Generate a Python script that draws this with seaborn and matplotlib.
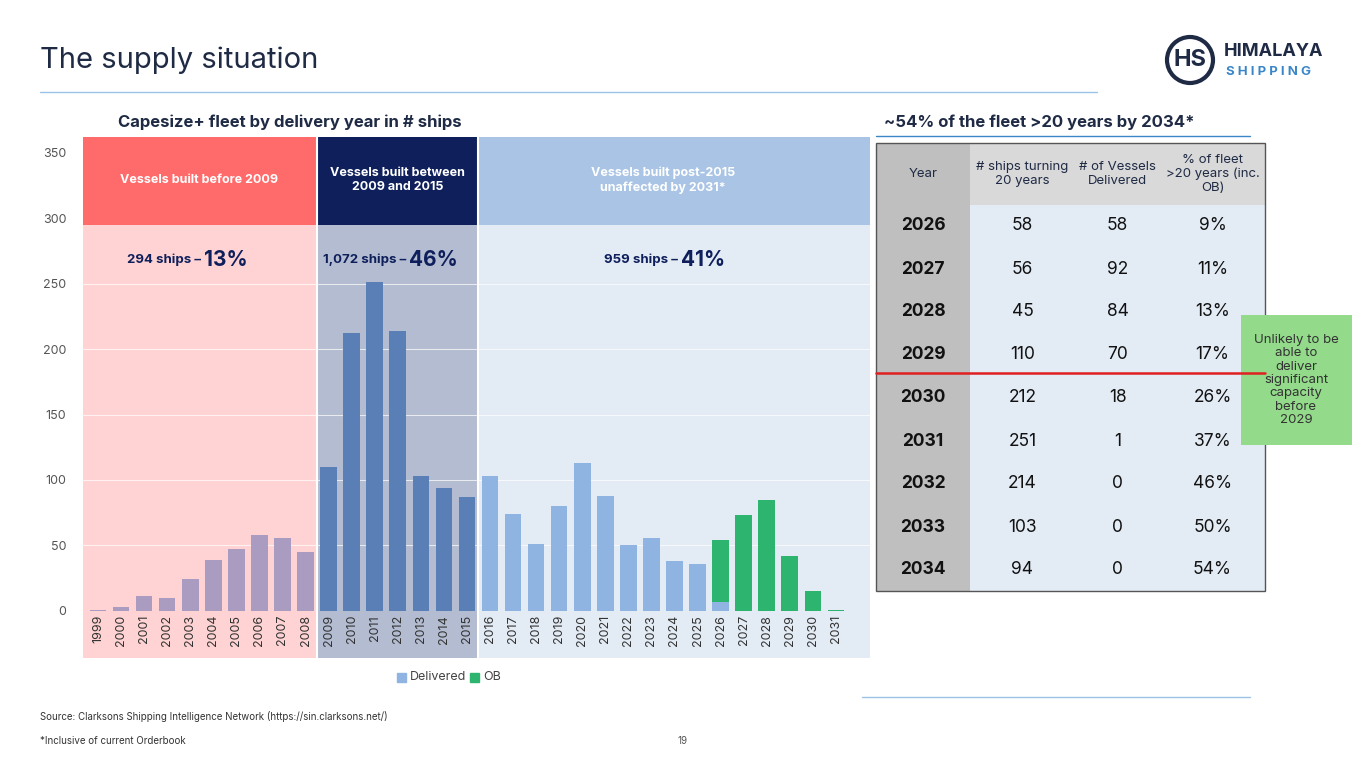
import matplotlib
matplotlib.use("Agg")
import matplotlib.pyplot as plt
import seaborn as sns
from matplotlib.patches import Rectangle, Ellipse

years = [str(y) for y in range(1999, 2032)]
delivered = [1,3,11,10,24,39,47,58,56,45,110,212,251,214,103,94,87,103,74,51,80,113,88,50,56,38,36,7,0,0,0,0,0]
orderbook = [0]*27 + [47,73,85,42,15,1]
tbl_years = ["2026","2027","2028","2029","2030","2031","2032","2033","2034"]
tbl_turning = [58,56,45,110,212,251,214,103,94]
tbl_deliv = [58,92,84,70,18,1,0,0,0]
tbl_pct = ["9%","11%","13%","17%","26%","37%","46%","50%","54%"]

sns.set_theme(style="white")
plt.rcParams['font.family'] = ['Inter', 'DejaVu Sans']
W, H = 1365, 768
fig = plt.figure(figsize=(13.65, 7.68), dpi=100)
def fx(x): return x / W
def fy(y): return 1 - y / H

fig.text(fx(40), fy(60), "The supply situation", fontsize=21, color="#1F2A44", va="center")
fig.add_artist(plt.Line2D([fx(40), fx(1097)], [fy(92), fy(92)], color="#9CC3E6", lw=1))
fig.add_artist(plt.Line2D([fx(862), fx(1250)], [fy(697), fy(697)], color="#9CC3E6", lw=1))
fig.add_artist(Ellipse((fx(1190), fy(60)), 46/W, 46/H, transform=fig.transFigure, fc="white", ec="#1F2A44", lw=3))
fig.text(fx(1190), fy(60), "HS", fontsize=17, fontweight="bold", color="#1F2A44", ha="center", va="center")
fig.text(fx(1224), fy(52), "HIMALAYA", fontsize=13, fontweight="bold", color="#1F2A44", va="center")
fig.text(fx(1226), fy(72), "S H I P P I N G", fontsize=9.5, fontweight="bold", color="#3A86C8", va="center")

fig.text(fx(118), fy(122), "Capesize+ fleet by delivery year in # ships", fontsize=12, fontweight="bold", color="#1F2A44", va="center")
fig.text(fx(884), fy(122), "~54% of the fleet >20 years by 2034*", fontsize=12, fontweight="bold", color="#1F2A44", va="center")
fig.add_artist(plt.Line2D([fx(876), fx(1250)], [fy(136), fy(136)], color="#3A86C8", lw=1))

ax = fig.add_axes([fx(83), fy(658), fx(870)-fx(83), fy(137)-fy(658)])
XL = (-0.65, 33.48)
regions = [(XL[0], 9.5, "#FFD3D3", "#FF6B6B"), (9.5, 16.5, "#B3BCD0", "#0E1F5B"), (16.5, XL[1], "#E3EBF5", "#A9C4E4")]
for x0, x1, lo, hi in regions:
    ax.add_patch(Rectangle((x0, -36), x1 - x0, 295 + 36, color=lo, zorder=0, lw=0))
    ax.add_patch(Rectangle((x0, 295), x1 - x0, 67, color=hi, zorder=0, lw=0))
for v in range(50, 300, 50):
    ax.axhline(v, color="white", lw=0.8, alpha=0.7, zorder=0.5)
ax.axvline(9.5, color="white", lw=1.5, zorder=0.6)
ax.axvline(16.5, color="white", lw=1.5, zorder=0.6)

cols = ["#A99CC0"]*10 + ["#5A7EB6"]*7 + ["#90B4E2"]*16
totals = [d + o for d, o in zip(delivered, orderbook)]
sns.barplot(x=years, y=totals, hue=years, palette=["#2DB46E"]*33, legend=False, width=0.72, ax=ax, zorder=2, saturation=1, linewidth=0)
sns.barplot(x=years, y=delivered, hue=years, palette=cols, legend=False, width=0.72, ax=ax, zorder=3, saturation=1, linewidth=0)
ax.set_xlim(*XL)
ax.set_ylim(-36, 362)
ax.set_yticks(range(0, 351, 50))
ax.tick_params(axis="y", labelsize=9, colors="#555555", length=0, pad=12)
ax.set_xticks([])
ax.set_xlabel(""); ax.set_ylabel("")
for s in ax.spines.values():
    s.set_visible(False)
for i, y in enumerate(years):
    ax.text(i, -3, y, rotation=90, ha="center", va="top", fontsize=9, color="#333333")

for x, t in [(4.4, "Vessels built before 2009"), (13.0, "Vessels built between\n2009 and 2015"), (24.5, "Vessels built post-2015\nunaffected by 2031*")]:
    ax.text(x, 329, t, ha="center", va="center", fontsize=9, fontweight="bold", color="white")
for x, a, b in [(4.6, "294 ships – ", "13%"), (13.5, "1,072 ships – ", "46%"), (25.3, "959 ships – ", "41%")]:
    ax.text(x, 268, a, ha="right", va="center", fontsize=9.5, fontweight="bold", color="#0E1F5B")
    ax.text(x, 268, b, ha="left", va="center", fontsize=15, fontweight="bold", color="#0E1F5B")

fig.add_artist(Rectangle((fx(397), fy(682)), 9/W, 9/H, transform=fig.transFigure, color="#90B4E2"))
fig.text(fx(410), fy(677), "Delivered", fontsize=9, color="#444444", va="center")
fig.add_artist(Rectangle((fx(470), fy(682)), 9/W, 9/H, transform=fig.transFigure, color="#2DB46E"))
fig.text(fx(483), fy(677), "OB", fontsize=9, color="#444444", va="center")

tx = [876, 970, 1075, 1160, 1265]
fig.add_artist(Rectangle((fx(876), fy(591)), 389/W, 448/H, transform=fig.transFigure, fc="#E3EBF5", lw=0))
fig.add_artist(Rectangle((fx(876), fy(591)), 94/W, 448/H, transform=fig.transFigure, fc="#BFBFBF", lw=0))
fig.add_artist(Rectangle((fx(970), fy(205)), 295/W, 62/H, transform=fig.transFigure, fc="#D9D9D9", lw=0))
fig.add_artist(Rectangle((fx(876), fy(591)), 389/W, 448/H, transform=fig.transFigure, fill=False, ec="#555555", lw=1))
heads = ["Year", "# ships turning\n20 years", "# of Vessels\nDelivered", "% of fleet\n>20 years (inc.\nOB)"]
for j, h in enumerate(heads):
    fig.text(fx((tx[j] + tx[j+1]) / 2), fy(174), h, ha="center", va="center", fontsize=9.5, color="#1F2A44", linespacing=1.2)
for i in range(9):
    yc = 226 + 43 * i
    vals = [tbl_years[i], str(tbl_turning[i]), str(tbl_deliv[i]), tbl_pct[i]]
    for j, v in enumerate(vals):
        fig.text(fx((tx[j] + tx[j+1]) / 2), fy(yc), v, ha="center", va="center", fontsize=12.5,
                 fontweight="bold" if j == 0 else "normal", color="#111111")
fig.add_artist(plt.Line2D([fx(876), fx(1265)], [fy(373), fy(373)], color="#E02020", lw=1.8))
fig.add_artist(Rectangle((fx(1241), fy(445)), 111/W, 130/H, transform=fig.transFigure, fc="#93DA8B", lw=0))
fig.text(fx(1296), fy(380), "Unlikely to be\nable to\ndeliver\nsignificant\ncapacity\nbefore\n2029", ha="center", va="center",
         fontsize=9.5, color="#333333", linespacing=1.15)

fig.text(fx(40), fy(716), "Source: Clarksons Shipping Intelligence Network (https://sin.clarksons.net/)", fontsize=7, color="#333333", va="center")
fig.text(fx(40), fy(741), "*Inclusive of current Orderbook", fontsize=7, color="#333333", va="center")
fig.text(fx(683), fy(741), "19", fontsize=7, color="#555555", va="center", ha="center")

fig.savefig("out.png", dpi=100)
